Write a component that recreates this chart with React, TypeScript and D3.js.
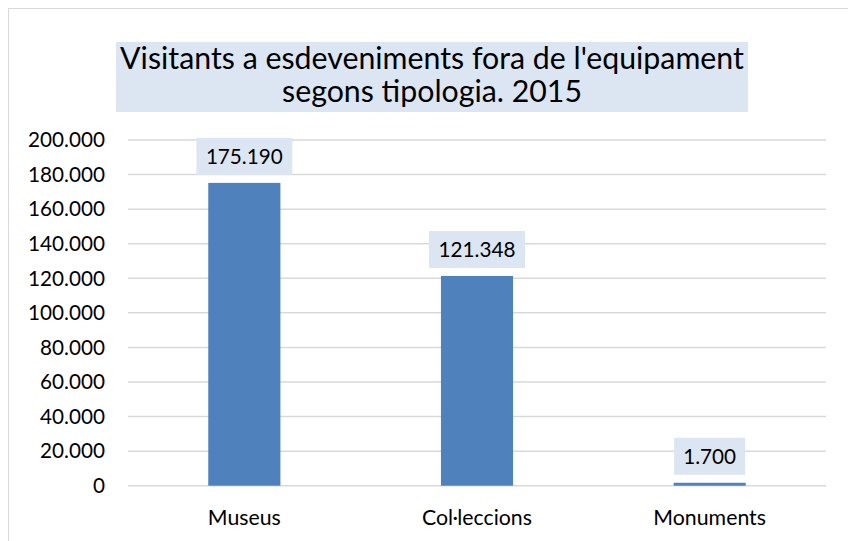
import React from "react";
import * as d3 from "d3";

const categories = ["Museus", "Col·leccions", "Monuments"];
const values = [175190, 121348, 1700];
const yTicks = [0, 20000, 40000, 60000, 80000, 100000, 120000, 140000, 160000, 180000, 200000];
const titleLines = ["Visitants a esdeveniments fora de l'equipament", "segons tipologia. 2015"];

const W = 848;
const H = 541;
const FONT = "Lato, 'Open Sans', sans-serif";

const fmt = (v: number) => {
  const s = Math.round(v).toString();
  return s.replace(/\B(?=(\d{3})+(?!\d))/g, ".");
};

export default function App() {
  const x = d3.scaleBand<string>().domain(categories).range([128, 826]).padding(0);
  const y = d3.scaleLinear().domain([0, 200000]).range([485.7, 140]);
  const barW = x.bandwidth() * 0.31;
  const labelH = 37;

  return (
    <svg width={W} height={H} style={{ position: "absolute", left: 0, top: 0, background: "#fff" }}>
      <rect x={8.5} y={8.5} width={W} height={H} fill="#fff" stroke="#d9d9d9" strokeWidth={1} />
      <rect x={116} y={42} width={632} height={70} fill="#dce6f2" />
      {titleLines.map((t, i) => (
        <text key={i} x={432} y={69 + i * 33} textAnchor="middle" fontFamily={FONT} fontSize={30.3} fill="#000">
          {t}
        </text>
      ))}
      {yTicks.map((t) => (
        <g key={t}>
          <line x1={128} x2={826} y1={y(t)} y2={y(t)} stroke="#d9d9d9" strokeWidth={1.5} />
          <text x={105} y={y(t) + 7.3} textAnchor="end" fontFamily={FONT} fontSize={20.7} fill="#000">
            {fmt(t)}
          </text>
        </g>
      ))}
      {categories.map((c, i) => {
        const cx = (x(c) as number) + x.bandwidth() / 2;
        const top = y(values[i]);
        const lw = values[i] < 10000 ? 71 : 96;
        return (
          <g key={c}>
            <rect x={cx - barW / 2} y={top} width={barW} height={y(0) - top} fill="#4f81bd" />
            <rect x={cx - lw / 2} y={top - 8 - labelH} width={lw} height={labelH} fill="#dce6f2" />
            <text x={cx} y={top - 8 - labelH / 2 + 7.3} textAnchor="middle" fontFamily={FONT} fontSize={20.7} fill="#000">
              {fmt(values[i])}
            </text>
            <text x={cx} y={525} textAnchor="middle" fontFamily={FONT} fontSize={21.3} fill="#000">
              {c}
            </text>
          </g>
        );
      })}
    </svg>
  );
}
